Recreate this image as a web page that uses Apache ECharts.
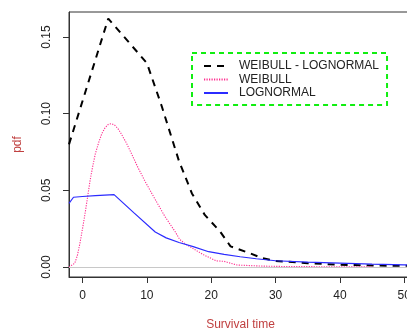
<!DOCTYPE html>
<html>
<head>
<meta charset="utf-8">
<script src="https://cdn.jsdelivr.net/npm/echarts@6/dist/echarts.min.js"></script>
<style>html,body{margin:0;padding:0;background:#fff;}#c{width:407px;height:329px;}</style>
</head>
<body>
<div id="c"></div>
<script>
const seriesNames = ['WEIBULL - LOGNORMAL', 'WEIBULL', 'LOGNORMAL'];
const xTicks = [0, 10, 20, 30, 40, 50];
const yTicks = [0, 0.05, 0.10, 0.15];

const mixX = [-2.1, 4, 10, 12.3, 15, 17, 19, 21.4, 23, 24, 26, 28, 30, 35, 40, 45, 50, 51.5];
const mixY = [0.080, 0.162, 0.133, 0.105, 0.069, 0.048, 0.034, 0.023, 0.0135, 0.012, 0.009, 0.0057, 0.004, 0.0025, 0.0015, 0.001, 0.0008, 0.0007];

const weiX = [-2.1, -1.9, -1.2, -0.8, -0.4, 0, 0.4, 0.8, 1.2, 1.6, 2, 2.5, 3, 3.5, 4, 4.5, 5, 5.5, 6, 6.8, 7.6, 8.6, 9.7, 11.3, 12.8, 14.4, 15.1, 16, 17.2, 18.8, 20.8, 22, 24, 28, 32, 38, 45];
const weiY = [0, 0.0003, 0.0025, 0.0075, 0.0155, 0.025, 0.035, 0.046, 0.057, 0.066, 0.074, 0.081, 0.087, 0.0908, 0.093, 0.0935, 0.0925, 0.0903, 0.087, 0.081, 0.074, 0.065, 0.056, 0.044, 0.033, 0.023, 0.018, 0.015, 0.012, 0.008, 0.004, 0.0037, 0.0013, 0.0006, 0.0003, 0.0002, 0.0001];

const logX = [-2.1, -1.4, 0, 2, 4.9, 8, 11.3, 13, 15, 17.2, 19.6, 22, 24.5, 27, 30, 35, 40, 45, 50, 51.5];
const logY = [0.0415, 0.0455, 0.046, 0.0465, 0.0472, 0.0353, 0.0228, 0.019, 0.016, 0.0133, 0.0100, 0.0082, 0.0067, 0.0054, 0.0041, 0.0032, 0.0025, 0.0019, 0.0014, 0.0013];

const zip = (xs, ys) => xs.map((x, i) => [x, ys[i]]);
const font = 'Liberation Sans, Arial, sans-serif';

const chart = echarts.init(document.getElementById('c'), null, {renderer: 'canvas'});
chart.setOption({
  animation: false,
  backgroundColor: '#fff',
  grid: {left: 69, top: 12, bottom: 52, right: -5, containLabel: false, outerBoundsMode: 'none',
    show: true, borderColor: '#333', borderWidth: 1},
  xAxis: {
    type: 'value', min: -2.1, max: 51.2,
    name: 'Survival time', nameLocation: 'middle', nameGap: 42,
    nameTextStyle: {color: '#c04040', fontSize: 12, fontFamily: font},
    axisLine: {show: true, onZero: false, lineStyle: {color: '#333'}},
    axisTick: {show: true, customValues: xTicks, length: 6, inside: false, lineStyle: {color: '#333'}},
    axisLabel: {customValues: xTicks, margin: 13, color: '#222', fontSize: 12, fontFamily: font},
    splitLine: {show: false}
  },
  yAxis: {
    type: 'value', min: -0.0065, max: 0.1663,
    name: 'pdf', nameLocation: 'middle', nameGap: 45, nameRotate: 90,
    nameTextStyle: {color: '#c04040', fontSize: 12, fontFamily: font},
    axisLine: {show: true, onZero: false, lineStyle: {color: '#333'}},
    axisTick: {show: true, customValues: yTicks, length: 6, inside: false, lineStyle: {color: '#333'}},
    axisLabel: {customValues: yTicks, rotate: 90, margin: 16, color: '#222', fontSize: 12, fontFamily: font,
      formatter: v => v.toFixed(2)},
    splitLine: {show: false}
  },
  legend: {
    orient: 'vertical', left: 192, top: 53,
    padding: [7, 8, 6, 11],
    itemWidth: 24, itemHeight: 12, itemGap: 1.5,
    itemStyle: {opacity: 0},
    borderColor: '#11ee11', borderWidth: 2, borderType: [5, 4],
    textStyle: {color: '#222', fontSize: 12, fontFamily: font, padding: [0, 0, 0, 6]},
    data: seriesNames
  },
  series: [
    {
      name: seriesNames[0], type: 'line', data: zip(mixX, mixY), symbol: 'none', clip: true,
      lineStyle: {color: '#000', width: 2, type: [7, 6]}, itemStyle: {color: '#000'},
      markLine: {silent: true, symbol: 'none', label: {show: false},
        lineStyle: {color: '#c8c8c8', width: 1, type: 'solid'}, data: [{yAxis: 0}]}
    },
    {
      name: seriesNames[1], type: 'line', data: zip(weiX, weiY), symbol: 'none', clip: true,
      lineStyle: {color: '#ff2d8f', width: 1.1, type: [1.2, 1.3]}, itemStyle: {color: '#ff2d8f'}
    },
    {
      name: seriesNames[2], type: 'line', data: zip(logX, logY), symbol: 'none', clip: true,
      lineStyle: {color: '#2b2bff', width: 1.2}, itemStyle: {color: '#2b2bff'}
    }
  ]
});
</script>
</body>
</html>
